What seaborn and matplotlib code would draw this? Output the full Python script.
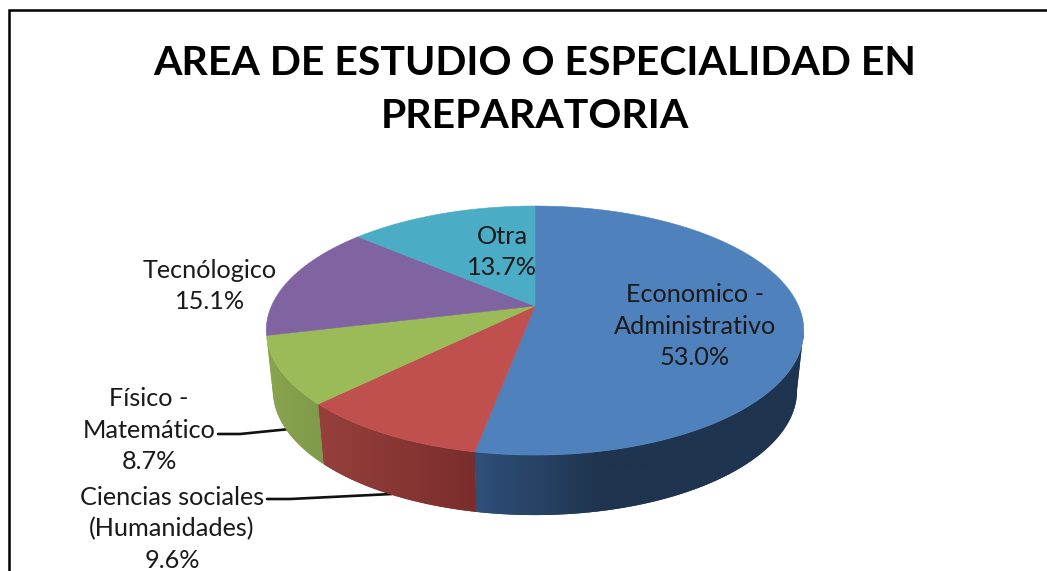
import numpy as np
import matplotlib.pyplot as plt
import seaborn as sns

# --- datos ---
categorias = ['Economico -\nAdministrativo', 'Ciencias sociales\n(Humanidades)', 'Físico -\nMatemático',
              'Tecnólogico', 'Otra']
valores = [53.0, 9.6, 8.7, 15.1, 13.7]
colores = ['#4f81bd', '#c0504d', '#9bbb59', '#8064a2', '#4bacc6']
# color de la pared lateral: de izquierda a derecha en cada sector visible
pared = [('#2f5079', '#1f344f'), ('#96403d', '#7a2d2c'), ('#8aa44e', '#7f9a4a')]
titulo = 'AREA DE ESTUDIO O ESPECIALIDAD EN\nPREPARATORIA'
pos_etiquetas = [(695, 326), (172, 529), (149, 430), (210, 286), (502, 252)]

sns.set_theme(style='white')
plt.rcParams['font.family'] = ['Lato', 'DejaVu Sans']

fig = plt.figure(figsize=(10.47, 5.71), dpi=100)
ax = fig.add_axes([0, 0, 1, 1])
ax.set_xlim(0, 1047)
ax.set_ylim(571, 0)
ax.axis('off')

# --- proyeccion del circulo en perspectiva ---
cx, cy = 535, 306
a, b, k = 263.5, 119.7, 0.197
prof, escala = 60, 0.975


def borde(t):
    u, v = np.sin(t), np.cos(t)
    w = 1 + k * v
    return cx + a * u / w, cy - b * v / w


total = sum(valores)
cortes = np.cumsum([0] + valores) / total * 2 * np.pi

# paredes primero, la cara superior va encima
for i in range(len(pared)):
    ini = max(cortes[i], np.radians(101))
    ts = np.linspace(ini, cortes[i + 1], 200)
    x, y = borde(ts)
    xb = cx + (x - cx) * escala
    poli_x = np.r_[x, xb[::-1]]
    poli_y = np.r_[y, y[::-1] + prof]
    parche = ax.fill(poli_x, poli_y, color=pared[i][1], lw=0, zorder=2)[0]
    x0, x1 = poli_x.min(), poli_x.max()
    if i == 0:
        # el azul solo se aclara cerca del borde con el rojo
        x1_grad = 600
    else:
        x1_grad = x1
    columnas = np.arange(int(x0), int(x1) + 2)
    grad = np.clip((columnas - x0) / (x1_grad - x0), 0, 1)[None, :]
    cmapa = sns.blend_palette(pared[i], as_cmap=True)
    im = ax.imshow(grad, cmap=cmapa, vmin=0, vmax=1, extent=(columnas[0], columnas[-1], 530, 300),
                   aspect='auto', zorder=2.5, interpolation='bilinear')
    im.set_clip_path(parche)

ax.set_xlim(0, 1047)
ax.set_ylim(571, 0)

for i in range(len(valores)):
    ts = np.linspace(cortes[i], cortes[i + 1], 200)
    x, y = borde(ts)
    ax.fill(np.r_[cx, x], np.r_[cy, y], color=colores[i], lw=0.4, zorder=3)

# --- lineas guia ---
ax.plot([218, 240, 290], [434, 434, 429], color='#111111', lw=1.9, zorder=1)
ax.plot([267, 290, 392], [499, 499, 494], color='#111111', lw=1.9, zorder=1)

# --- textos ---
for cat, val, (px, py) in zip(categorias, valores, pos_etiquetas):
    ax.text(px, py, f'{cat}\n{val:.1f}%', ha='center', va='center',
            fontsize=18.2, color='#1a1a1a', linespacing=1.44, zorder=4)

ax.text(535, 90, titulo, ha='center', va='center', fontsize=29.5, fontweight='bold', color='black',
        linespacing=1.56, zorder=4)

# --- marco recortado ---
ax.plot([8.5, 8.5, 1047], [571, 9.5, 9.5], color='black', lw=1.8, zorder=5, solid_joinstyle='miter')

fig.savefig('out.png', dpi=100, facecolor='white')
plt.close(fig)
